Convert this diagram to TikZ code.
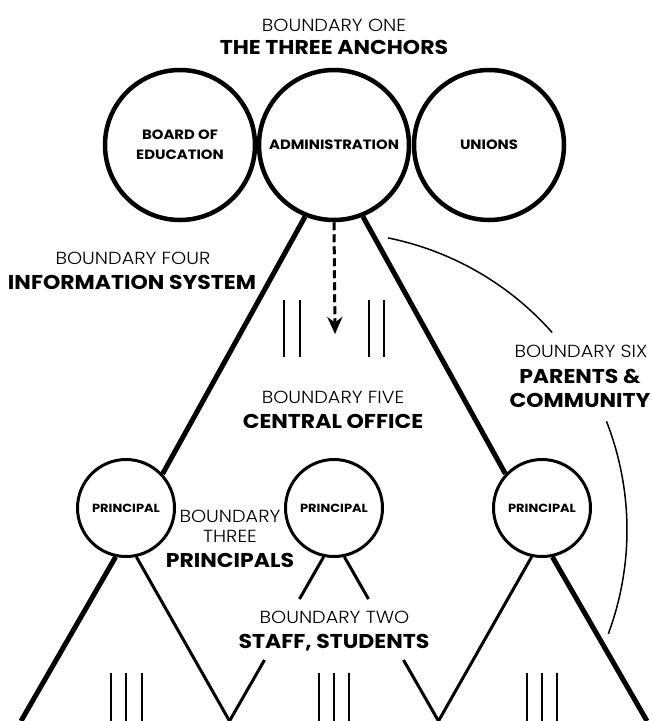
\documentclass[tikz,border=0pt]{standalone}
\usepackage{fontspec}
\newfontfamily\lightfont{Poppins Light}[FakeStretch=1.1]
\newfontfamily\heavyfont{Poppins Bold}[FakeStretch=1.1]
\usetikzlibrary{arrows.meta}

\begin{document}
\begin{tikzpicture}[x=1pt, y=-1pt,
    anchorcircle/.style={draw, circle, line width=4.5pt, minimum size=150pt, inner sep=0pt,
      align=center, font=\heavyfont\fontsize{13.5}{20}\selectfont},
    principalcircle/.style={draw, circle, line width=3pt, minimum size=97pt, inner sep=0pt,
      font=\heavyfont\fontsize{11.8}{14}\selectfont},
    lighttext/.style={anchor=base, inner sep=0pt, font=\lightfont\fontsize{17.5}{20}\selectfont},
    heavytext/.style={anchor=base, inner sep=0pt, font=\heavyfont\fontsize{20}{24}\selectfont},
    thickline/.style={line width=5pt},
    thinline/.style={line width=3pt},
    tally/.style={line width=1.8pt}]
    \useasboundingbox (0,0) rectangle (652,721);

    % The three anchors
    \node [anchorcircle] (board) at (180,145) {BOARD OF\\EDUCATION};
    \node [anchorcircle] (admin) at (334,145) {ADMINISTRATION};
    \node [anchorcircle] (unions) at (489,145) {UNIONS};

    % Principals
    \node [principalcircle] (pl) at (126,508) {PRINCIPAL};
    \node [principalcircle] (pm) at (334,508) {PRINCIPAL};
    \node [principalcircle] (pr) at (542,508) {PRINCIPAL};

    % Boundary labels
    \node [lighttext] (b1) at (334,31) {BOUNDARY ONE};
    \node [heavytext] (b1h) at (334,54) {THE THREE ANCHORS};
    \node [lighttext] (b4) at (133,264) {BOUNDARY FOUR};
    \node [heavytext] (b4h) at (132,289) {INFORMATION SYSTEM};
    \node [lighttext] (b5) at (333,403) {BOUNDARY FIVE};
    \node [heavytext] (b5h) at (333,428) {CENTRAL OFFICE};
    \node [lighttext] (b6) at (581,357) {BOUNDARY SIX};
    \node [heavytext] (b6h) at (580,383) {PARENTS \&};
    \node [heavytext] (b6c) at (580,407) {COMMUNITY};
    \node [lighttext] (b3) at (230,522) {BOUNDARY};
    \node [lighttext] (b3t) at (230,542) {THREE};
    \node [heavytext] (b3h) at (230,567) {PRINCIPALS};
    \node [lighttext] (b2) at (334.5,623) {BOUNDARY TWO};
    \node [heavytext] (b2h) at (334,648) {STAFF, STUDENTS};

    % Ends of the lower lines
    \coordinate (v0) at (21,721);
    \coordinate (v1) at (229.5,721);
    \coordinate (v2) at (438.5,721);
    \coordinate (v3) at (647,721);
    \coordinate (g1) at (299.5,599);
    \coordinate (g2) at (264.5,660);
    \coordinate (g3) at (368.5,599);
    \coordinate (g4) at (403.5,660);
    \coordinate (tip) at (335,334);
    \coordinate (arccentre) at (329,530);

    % Lines
    \draw [thickline] (admin.248) -- (pl.43);
    \draw [thickline] (admin.292) -- (pr.137);
    \draw [line width=3pt, dash pattern=on 8pt off 4pt, -{Stealth[length=17pt, width=15pt]}] (admin.south) -- (tip);

    \draw [thickline] (pl.258) -- (v0);
    \draw [thinline] (pl.282) -- (v1);
    \draw [thinline] (pm.258) -- (g1);
    \draw [thinline] (g2) -- (v1);
    \draw [thinline] (pm.282) -- (g3);
    \draw [thinline] (g4) -- (v2);
    \draw [thinline] (pr.258) -- (v2);
    \draw [thickline] (pr.282) -- (v3);

    % Tally marks
    \foreach \x in {284,300,369,384}
        \draw [tally] (\x,300) -- (\x,357);
    \foreach \x in {111,126,142,319,334,349,527,542,557}
        \draw [tally] (\x,673) -- (\x,721);

    % Parents and community arc
    \draw [line width=1.5pt] (arccentre) ++(-78.6:298) arc [start angle=-78.6, end angle=-41.5, radius=298];
    \draw [line width=1.5pt] (arccentre) ++(-21.4:298) arc [start angle=-21.4, end angle=20.4, radius=298];
\end{tikzpicture}
\end{document}
